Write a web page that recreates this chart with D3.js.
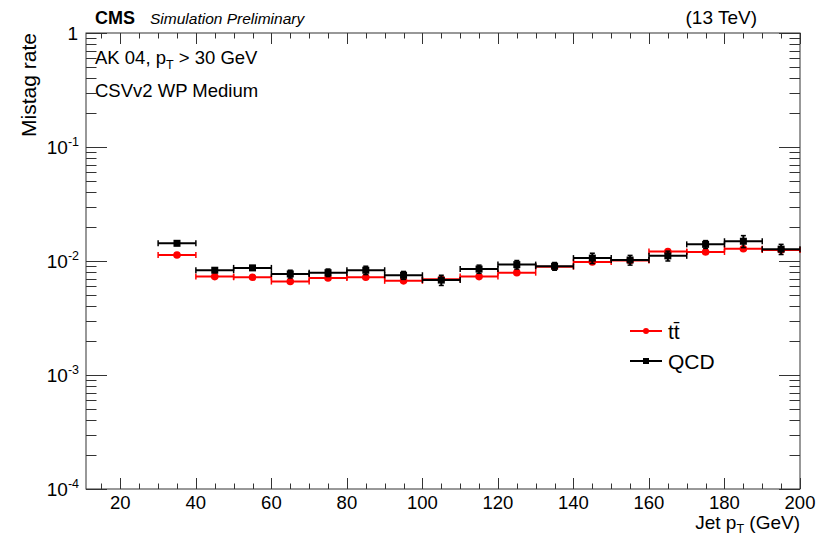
<!DOCTYPE html>
<html>
<head>
<meta charset="utf-8">
<script src="https://cdn.jsdelivr.net/npm/d3@7"></script>
<style>
  html, body { margin: 0; padding: 0; background: #fff; }
  svg { display: block; font-family: "Liberation Sans", Arial, Helvetica, sans-serif; }
</style>
</head>
<body>
<svg id="chart" width="816" height="537"></svg>
<script>
// Jet pT bins (GeV)
const binLow  = [30, 40, 50, 60, 70, 80, 90, 100, 110, 120, 130, 140, 150, 160, 170, 180, 190];
const binHigh = [40, 50, 60, 70, 80, 90, 100, 110, 120, 130, 140, 150, 160, 170, 180, 190, 200];

// Mistag rate, ttbar sample
const ttValues = [0.0113, 0.0073, 0.0072, 0.0066, 0.0071, 0.0072, 0.0067, 0.0069, 0.0073,
                  0.0079, 0.0089, 0.0098, 0.0101, 0.0121, 0.0120, 0.0128, 0.0125];
const ttErrors = [0.0003, 0.0002, 0.0002, 0.0002, 0.0002, 0.0002, 0.0002, 0.0002, 0.0002,
                  0.0002, 0.0003, 0.0003, 0.0003, 0.0004, 0.0004, 0.0004, 0.0004];

// Mistag rate, QCD sample
const qcdValues = [0.0143, 0.0083, 0.0087, 0.0077, 0.0079, 0.0083, 0.0075, 0.0068, 0.0085,
                   0.0093, 0.0090, 0.0106, 0.0102, 0.0111, 0.0140, 0.0149, 0.0127];
const qcdErrors = [0.0006, 0.0003, 0.0004, 0.0006, 0.0006, 0.0007, 0.0006, 0.0007, 0.0007,
                   0.0008, 0.0007, 0.0011, 0.0010, 0.0011, 0.0011, 0.0018, 0.0013];

// Axis ticks
const xMajorTicks = [20, 40, 60, 80, 100, 120, 140, 160, 180, 200];
const yDecades = [1e-4, 1e-3, 1e-2, 1e-1, 1];
const yDecadeLabels = [["10", "-4"], ["10", "-3"], ["10", "-2"], ["10", "-1"], ["1", ""]];

const svg = d3.select("#chart");
const L = 86, R = 800, T = 33, B = 489;

const x = d3.scaleLinear().domain([10.9, 200]).range([L, R]);
const y = d3.scaleLog().domain([1e-4, 1]).range([B, T]);

const axisColor = "#333";
const g = svg.append("g");

// Frame
g.append("rect").attr("x", L).attr("y", T).attr("width", R - L).attr("height", B - T)
  .attr("fill", "none").attr("stroke", axisColor).attr("stroke-width", 1);

// X ticks (bottom and top, pointing inward)
const xMinor = d3.range(15, 201, 5).filter(v => v % 20 !== 0);
const xTickLen = 11, xMinorLen = 5.5;
function xTick(v, len) {
  const px = Math.round(x(v)) + 0.5;
  g.append("line").attr("x1", px).attr("x2", px).attr("y1", B).attr("y2", B - len)
    .attr("stroke", axisColor).attr("stroke-width", 1);
  g.append("line").attr("x1", px).attr("x2", px).attr("y1", T).attr("y2", T + len)
    .attr("stroke", axisColor).attr("stroke-width", 1);
}
xMajorTicks.forEach(v => xTick(v, xTickLen));
xMinor.forEach(v => xTick(v, xMinorLen));

// Y ticks (left and right, pointing inward)
const yTickLen = 21, yMinorLen = 10.5;
function yTick(v, len) {
  const py = Math.round(y(v)) + 0.5;
  g.append("line").attr("x1", L).attr("x2", L + len).attr("y1", py).attr("y2", py)
    .attr("stroke", axisColor).attr("stroke-width", 1);
  g.append("line").attr("x1", R).attr("x2", R - len).attr("y1", py).attr("y2", py)
    .attr("stroke", axisColor).attr("stroke-width", 1);
}
yDecades.forEach(v => yTick(v, yTickLen));
yDecades.slice(0, -1).forEach(d => {
  for (let k = 2; k <= 9; k++) yTick(d * k, yMinorLen);
});

// X tick labels
xMajorTicks.forEach(v => {
  svg.append("text").attr("x", x(v)).attr("y", 509)
    .attr("text-anchor", "middle").attr("font-size", 18.5).attr("fill", "#000").text(v);
});

// Y tick labels
yDecades.forEach((v, i) => {
  const [base, exp] = yDecadeLabels[i];
  const t = svg.append("text").attr("y", y(v) + 7).attr("font-size", 19).attr("fill", "#000")
    .attr("text-anchor", "end");
  if (exp) {
    t.attr("x", 79);
    t.append("tspan").text(base);
    t.append("tspan").attr("font-size", 12.5).attr("dy", -8).text(exp);
  } else {
    t.attr("x", 78).text(base);
  }
});

// Axis titles
const xt = svg.append("text").attr("x", 800).attr("y", 529).attr("text-anchor", "end")
  .attr("font-size", 19).attr("fill", "#000");
xt.append("tspan").text("Jet p");
xt.append("tspan").attr("font-size", 12.5).attr("dy", 4).text("T");
xt.append("tspan").attr("dy", -4).text("  (GeV)");

svg.append("text").attr("transform", "translate(36,33) rotate(-90)")
  .attr("text-anchor", "end").attr("font-size", 21).attr("fill", "#000").text("Mistag rate");

// Header
svg.append("text").attr("x", 95).attr("y", 24).attr("font-size", 18).attr("font-weight", "bold")
  .attr("fill", "#000").text("CMS");
svg.append("text").attr("x", 150).attr("y", 24).attr("font-size", 15.5).attr("font-style", "italic")
  .attr("fill", "#000").text("Simulation Preliminary");
svg.append("text").attr("x", 757).attr("y", 24).attr("font-size", 19).attr("text-anchor", "end")
  .attr("fill", "#000").text("(13 TeV)");

// Selection labels
const s1 = svg.append("text").attr("x", 95).attr("y", 64).attr("font-size", 18.5).attr("fill", "#000");
s1.append("tspan").text("AK 04, p");
s1.append("tspan").attr("font-size", 12.5).attr("dy", 5).text("T");
s1.append("tspan").attr("dy", -5).text(" > 30 GeV");
svg.append("text").attr("x", 95).attr("y", 97).attr("font-size", 18.5).attr("fill", "#000")
  .text("CSVv2 WP Medium");

// Data series
function drawSeries(values, errors, color, marker) {
  const sg = svg.append("g");
  values.forEach((v, i) => {
    const x0 = x(binLow[i]), x1 = x(binHigh[i]);
    const xc = (x0 + x1) / 2, yc = y(v);
    const cap = 3;
    sg.append("line").attr("x1", x0).attr("x2", x1).attr("y1", yc).attr("y2", yc)
      .attr("stroke", color).attr("stroke-width", 2);
    [x0, x1].forEach(xe => sg.append("line").attr("x1", xe).attr("x2", xe)
      .attr("y1", yc - cap).attr("y2", yc + cap).attr("stroke", color).attr("stroke-width", 1.5));
    const ylo = y(v - errors[i]), yhi = y(v + errors[i]);
    sg.append("line").attr("x1", xc).attr("x2", xc).attr("y1", ylo).attr("y2", yhi)
      .attr("stroke", color).attr("stroke-width", 2);
    [ylo, yhi].forEach(ye => sg.append("line").attr("x1", xc - 2.5).attr("x2", xc + 2.5)
      .attr("y1", ye).attr("y2", ye).attr("stroke", color).attr("stroke-width", 1.5));
    if (marker === "circle") {
      sg.append("circle").attr("cx", xc).attr("cy", yc).attr("r", 3.8).attr("fill", color);
    } else {
      sg.append("rect").attr("x", xc - 3.5).attr("y", yc - 3.5).attr("width", 7).attr("height", 7)
        .attr("fill", color);
    }
  });
}
drawSeries(ttValues, ttErrors, "#ff0000", "circle");
drawSeries(qcdValues, qcdErrors, "#000000", "square");

// Legend
const legend = [
  { color: "#ff0000", marker: "circle", y: 331 },
  { color: "#000000", marker: "square", y: 361 }
];
legend.forEach(d => {
  svg.append("line").attr("x1", 630).attr("x2", 662).attr("y1", d.y).attr("y2", d.y)
    .attr("stroke", d.color).attr("stroke-width", 2);
  if (d.marker === "circle") {
    svg.append("circle").attr("cx", 646).attr("cy", d.y).attr("r", 3).attr("fill", d.color);
  } else {
    svg.append("rect").attr("x", 643).attr("y", d.y - 3).attr("width", 6).attr("height", 6).attr("fill", d.color);
  }
});
const lt = svg.append("text").attr("x", 668).attr("y", 339).attr("font-size", 21).attr("fill", "#000");
lt.append("tspan").text("t");
lt.append("tspan").text("t\u0304");
svg.append("text").attr("x", 668).attr("y", 369).attr("font-size", 21).attr("fill", "#000").text("QCD");
</script>
</body>
</html>
